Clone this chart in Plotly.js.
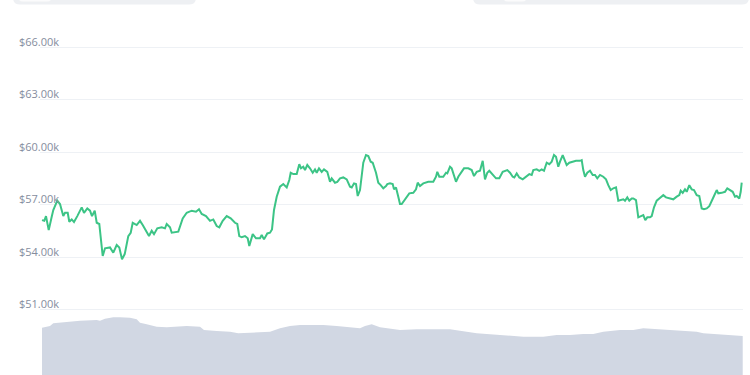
<!DOCTYPE html>
<html>
<head>
<meta charset="utf-8">
<script src="https://cdn.plot.ly/plotly-3.0.1.min.js"></script>
<style>
html,body{margin:0;padding:0;background:#fff;}
#chart{width:750px;height:375px;}
</style>
</head>
<body>
<div id="chart"></div>
<script>
// Price series (hours since start, price in $k)
const priceHours = [0,0.55,0.96,1.61,2.33,2.71,3.67,4.32,5.11,5.52,6.17,6.55,7.13,7.68,8.47,9.53,10.08,10.87,11.52,12.0,12.65,13.13,13.75,14.57,15.12,16.32,17.11,17.93,18.55,19.2,19.85,20.71,21.29,21.77,22.73,23.52,24.17,25.13,25.68,26.33,26.88,27.67,28.73,29.52,29.93,30.72,31.13,32.71,33.77,34.73,35.93,36.96,37.68,38.33,39.36,40.32,41.11,41.93,42.55,43.37,44.33,45.29,45.77,46.32,46.87,47.35,47.93,48.72,49.37,49.75,50.57,51.36,52.32,52.73,53.28,54.07,54.72,55.2,55.68,56.33,57.12,57.91,58.73,59.35,59.69,60.31,61.13,61.75,62.16,62.71,63.12,63.67,64.32,64.97,65.52,65.93,66.48,67.13,67.68,68.47,69.12,69.53,70.32,70.87,71.52,72.31,73.13,73.92,74.33,74.88,75.36,75.77,76.32,77.11,77.76,78.31,78.89,79.37,80.16,80.71,81.29,81.91,82.56,82.87,83.52,84.17,84.48,84.96,85.51,85.92,86.33,87.12,88.15,89.11,89.76,90.17,90.72,91.51,92.71,93.91,94.56,94.87,95.35,96.31,96.96,97.27,97.92,98.33,98.88,99.36,99.91,100.49,101.28,102.31,103.13,103.68,104.33,105.12,105.77,106.32,106.87,107.35,108.17,108.96,109.75,110.57,111.67,112.32,112.97,113.35,113.93,114.55,115.37,116.16,116.95,117.53,117.91,118.73,119.35,119.93,120.48,121.13,121.75,122.33,122.88,123.36,123.91,124.32,124.97,125.52,125.93,126.55,127.37,128.16,129.12,129.53,129.91,130.32,130.87,131.52,132.17,132.72,133.27,133.92,134.71,135.36,135.91,136.49,137.11,137.76,138.31,138.89,139.51,139.92,140.47,140.95,141.53,141.91,142.56,143.11,143.69,144.31,144.79,145.27,145.92,146.33,146.88,147.53,148.15,148.73,149.11,149.76,150.72,151.51,152.33,152.95,153.29,153.77,154.32,154.73,155.35,155.93,156.48,157.13,157.75,158.33,158.88,159.53,160.15,160.73,161.28,161.93,162.31,163.13,163.92,164.47,165.12,165.77,166.32,166.73,167.35,167.69,167.93];
const prices = [56.11,56.07,56.34,55.54,56.30,56.69,57.22,57.03,56.34,56.53,56.53,56.02,56.15,56.00,56.34,56.84,56.53,56.78,56.65,56.34,56.65,55.96,55.89,54.06,54.50,54.55,54.25,54.69,54.55,53.87,54.17,55.20,55.39,55.96,55.83,56.07,55.83,55.45,55.20,55.50,55.31,55.64,55.70,55.64,55.89,55.70,55.39,55.45,56.21,56.53,56.65,56.59,56.73,56.46,56.34,56.07,56.15,55.77,55.70,56.07,56.34,56.21,56.07,55.96,55.89,55.20,55.13,55.20,55.07,54.63,55.31,55.07,55.07,55.26,55.01,55.35,55.39,55.58,56.69,57.45,58.02,58.17,57.98,58.40,58.82,58.74,58.74,59.31,59.07,59.16,58.97,59.26,59.07,58.82,59.01,58.82,59.07,58.87,59.01,58.87,58.30,58.50,58.25,58.30,58.50,58.55,58.44,58.02,57.98,58.21,58.17,57.49,57.83,59.39,59.83,59.77,59.45,59.39,58.82,58.25,58.11,57.93,58.06,58.17,58.21,58.17,57.87,57.98,57.45,57.03,57.03,57.30,57.64,57.67,57.87,58.25,58.06,58.21,58.30,58.30,58.59,58.87,58.59,58.59,58.82,58.78,59.16,59.07,58.63,58.30,58.59,58.78,59.07,59.07,58.97,58.63,58.87,58.93,59.50,58.44,58.82,58.93,58.69,58.50,58.50,58.87,58.97,58.82,58.59,58.55,58.78,58.55,58.44,58.59,58.74,58.69,58.97,59.01,58.93,59.01,58.93,59.39,59.31,59.45,59.83,59.73,59.16,59.45,59.83,59.50,59.26,59.39,59.45,59.50,59.50,59.54,58.97,58.59,58.82,58.93,58.69,58.69,58.50,58.69,58.59,58.44,58.11,57.83,57.93,57.98,57.22,57.26,57.30,57.22,57.41,57.22,57.35,57.35,57.26,56.27,56.34,56.40,56.11,56.27,56.27,56.34,56.84,57.22,57.35,57.45,57.54,57.41,57.35,57.30,57.45,57.54,57.79,57.67,57.87,57.73,58.11,57.87,57.83,57.54,57.49,56.78,56.73,56.78,56.91,57.26,57.49,57.83,57.64,57.67,57.73,57.93,57.83,57.73,57.45,57.49,57.35,57.73,58.25];

// Volume series (hours, volume in $B)
const volumeHours = [0,1.92,2.71,5.93,9.12,13.13,13.92,15.12,17.11,18.72,21.12,22.73,23.52,25.13,27.53,29.93,32.33,34.73,37.92,38.88,41.93,45.12,47.11,49.92,54.72,57.12,59.52,61.92,67.51,70.73,76.32,77.52,79.13,81.12,83.52,85.92,89.93,93.12,97.92,100.32,104.33,107.52,112.32,115.51,120.31,123.53,126.72,129.91,132.31,134.71,138.72,141.91,144.31,148.32,152.33,157.13,158.71,161.93,165.12,168.17];
const volumes = [18.92,19.6,20.68,21.2,21.72,22.0,21.72,22.52,23.08,23.08,22.92,22.28,20.92,20.28,19.32,19.08,19.32,19.6,19.32,18.0,17.6,17.32,16.68,16.92,17.32,18.68,19.6,20.0,20.0,19.6,18.68,19.6,20.28,19.08,18.68,18.0,18.28,18.28,18.28,17.72,16.68,16.28,15.6,15.32,15.32,16.0,16.0,16.4,16.4,17.32,18.0,18.0,18.68,18.28,18.0,17.32,16.68,16.4,16.0,15.6];

// Axis ticks
const tickValues = [51, 54, 57, 60, 63, 66];
const tickLabels = ['$51.00k', '$54.00k', '$57.00k', '$60.00k', '$63.00k', '$66.00k'];

const traces = [
  {
    x: volumeHours, y: volumes, yaxis: 'y2', type: 'scatter', mode: 'lines',
    fill: 'tozeroy', fillcolor: '#d1d7e3', line: {width: 0, color: '#d1d7e3'},
    hoverinfo: 'skip'
  },
  {
    x: priceHours, y: prices, type: 'scatter', mode: 'lines',
    line: {color: '#3cc486', width: 2}
  }
];

function roundRect(x0, y0, x1, y1, r) {
  return `M${x0+r},${y0} L${x1-r},${y0} Q${x1},${y0} ${x1},${y0+r} L${x1},${y1-r} Q${x1},${y1} ${x1-r},${y1} L${x0+r},${y1} Q${x0},${y1} ${x0},${y1-r} L${x0},${y0+r} Q${x0},${y0} ${x0+r},${y0} Z`;
}

const layout = {
  width: 750, height: 375,
  margin: {l: 40, r: 7, t: 0, b: 0},
  paper_bgcolor: '#ffffff', plot_bgcolor: '#ffffff',
  showlegend: false,
  font: {family: 'Open Sans, sans-serif', color: '#858d9e', size: 11},
  xaxis: {range: [-0.48, 168.24], showgrid: false, zeroline: false, showticklabels: false, showline: false, fixedrange: true},
  yaxis: {
    range: [47.26, 68.69], tickvals: tickValues, ticktext: tickLabels,
    showgrid: true, gridcolor: '#eef1f5', gridwidth: 1, zeroline: false, showline: false,
    ticks: '', ticklabelstandoff: -20, ticklabelshift: -5,
    tickfont: {size: 11, color: '#858d9e', family: 'Open Sans, sans-serif'}
  },
  yaxis2: {range: [0, 150], overlaying: 'y', showgrid: false, zeroline: false, showticklabels: false, showline: false},
  shapes: []
};

Plotly.newPlot('chart', traces, layout, {displayModeBar: false, staticPlot: true}).then(() => {
  // decorative header boxes partly cut off at the top edge
  const svg = document.querySelector('#chart .main-svg');
  const ns = 'http://www.w3.org/2000/svg';
  const g = document.createElementNS(ns, 'g');
  const boxes = [
    {d: roundRect(13, -20, 196, 4.5, 7), fill: '#eef0f3'},
    {d: roundRect(18, -20, 52, 1.5, 5), fill: '#fbfbfc'},
    {d: roundRect(473, -20, 749, 4.5, 7), fill: '#eef0f3'},
    {d: roundRect(503, -20, 527, 1.5, 5), fill: '#fbfbfc'}
  ];
  boxes.forEach(b => {
    const p = document.createElementNS(ns, 'path');
    p.setAttribute('d', b.d);
    p.setAttribute('fill', b.fill);
    g.appendChild(p);
  });
  svg.appendChild(g);
});
</script>
</body>
</html>
